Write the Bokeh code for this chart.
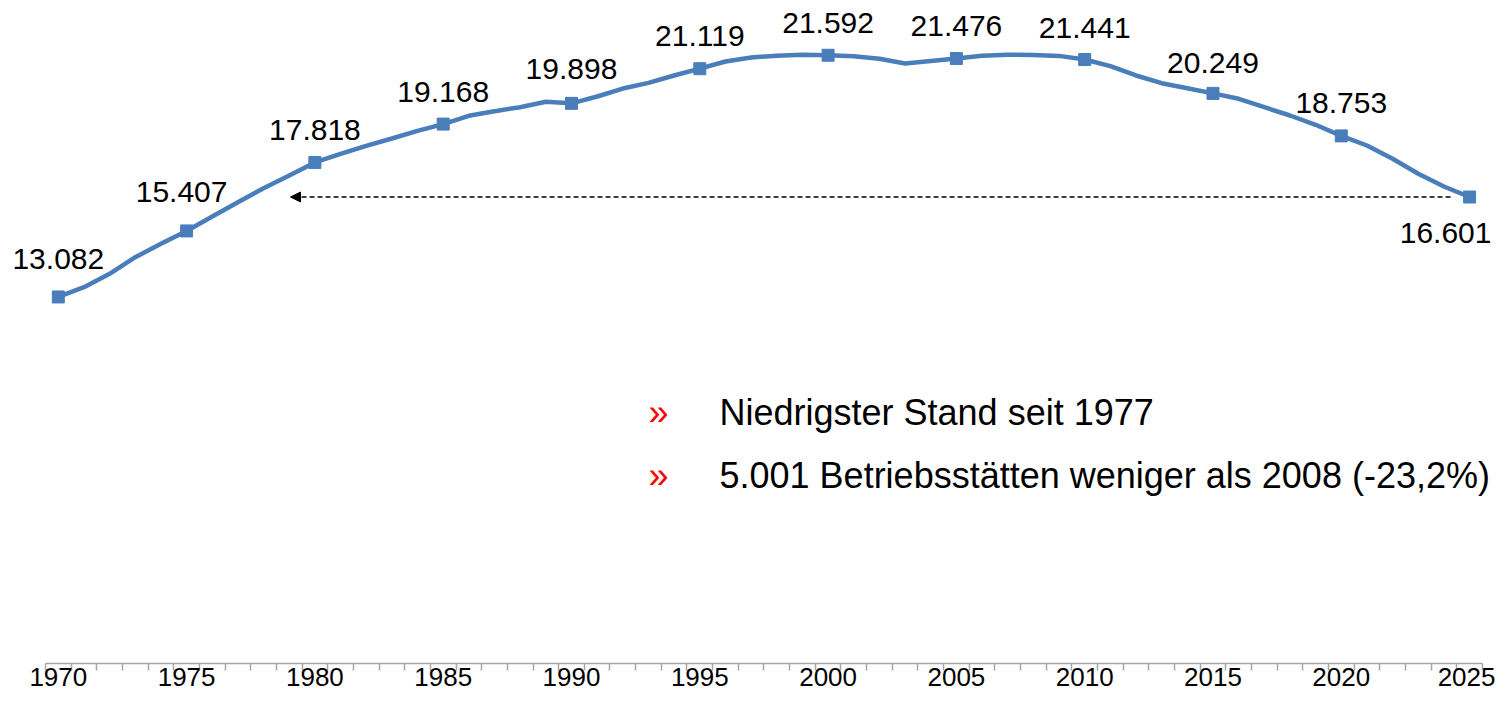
from bokeh.plotting import figure
from bokeh.models import Range1d, FixedTicker, ColumnDataSource, Arrow, NormalHead, Label
from bokeh.core.properties import value
from bokeh.embed import file_html
from bokeh.resources import INLINE

# ---------------- data ----------------
years = list(range(1970, 2026))
betriebe = [
    13082, 13425, 13897, 14482, 14954,   # 1970-1974
    15407, 15915, 16418, 16912, 17359,   # 1975-1979
    17818, 18120, 18400, 18660, 18930,   # 1980-1984
    19168, 19460, 19623, 19764, 19953,   # 1985-1989
    19898, 20140, 20420, 20620, 20880,   # 1990-1994
    21119, 21372, 21513, 21575, 21610,   # 1995-1999
    21592, 21560, 21467, 21302, 21390,   # 2000-2004
    21476, 21573, 21608, 21602, 21570,   # 2005-2009
    21441, 21207, 20880, 20609, 20433,   # 2010-2014
    20249, 20059, 19764, 19471, 19144,   # 2015-2019
    18753, 18415, 17947, 17418, 16972,   # 2020-2024
    16601,                               # 2025
]
label_years = [1970, 1975, 1980, 1985, 1990, 1995, 2000, 2005, 2010, 2015, 2020, 2025]
tick_labels = [str(y) for y in label_years]
bullets = [
    "Niedrigster Stand seit 1977",
    "5.001 Betriebsstätten weniger als 2008 (-23,2%)",
]

# ---------------- styling ----------------
FONT = "Liberation Sans"
BLUE = "#4a7ebb"
AXIS_GREY = "#a6a6a6"
label_dy = [-38, -39, -32, -32, -34, -33, -32, -33, -32, -30, -33, 36]  # px (screen, down positive)
label_dx = [0, -5, 0, 0, 0, 0, 0, 0, 0, 0, 0, -24]

def de_fmt(v):
    return f"{v:,}".replace(",", ".")

label_vals = [betriebe[years.index(y)] for y in label_years]
lab_src = ColumnDataSource(dict(
    x=label_years, y=label_vals,
    txt=[de_fmt(v) for v in label_vals],
    dx=label_dx, dy=label_dy,
))

p = figure(
    width=1495, height=696,
    x_range=Range1d(1967.747, 2026.01), y_range=Range1d(176, 23520),
    output_backend="svg", toolbar_location=None,
    y_axis_location=None,
    min_border_left=0, min_border_right=0, min_border_top=0, min_border_bottom=33,
)
p.title.visible = False
p.outline_line_color = None
p.grid.visible = False
p.background_fill_color = "white"
p.border_fill_color = "white"

# x axis: tick marks at category boundaries, labels at category centres
ax = p.xaxis[0]
ax.bounds = (1969.5, 2025.5)
ax.ticker = FixedTicker(ticks=label_years, minor_ticks=[1969.5 + i for i in range(len(years) + 1)])
ax.major_label_overrides = {y: t for y, t in zip(label_years, tick_labels)}
ax.major_tick_line_color = None
ax.major_tick_out = 7
ax.major_tick_in = 0
ax.minor_tick_out = 7
ax.minor_tick_in = 0
ax.minor_tick_line_color = AXIS_GREY
ax.minor_tick_line_width = 1.5
ax.axis_line_color = AXIS_GREY
ax.axis_line_width = 1.5
ax.major_label_standoff = -3
ax.major_label_text_font = FONT
ax.major_label_text_font_size = "26px"
ax.major_label_text_color = "black"

# dashed arrow from 2025 back to the 1977 level
p.add_layout(Arrow(
    end=NormalHead(size=10, fill_color="black", line_color="black", line_width=1),
    x_start=2024.26, y_start=betriebe[-1], x_end=1979.05, y_end=betriebe[-1],
    line_color="black", line_width=1.4, line_dash="5 3",
))

# series
p.line(years, betriebe, line_color=BLUE, line_width=4.5, line_join="round", line_cap="round")
p.scatter(label_years, label_vals, marker="square", size=12, fill_color=BLUE, line_color=BLUE)

p.text(x="x", y="y", text="txt", x_offset="dx", y_offset="dy", source=lab_src,
       text_align="center", text_baseline="alphabetic",
       text_font=value(FONT), text_font_size="30px", text_color="black")

# bullet notes
note_base = [9014, 6795]
for txt, yb in zip(bullets, note_base):
    p.add_layout(Label(x=1993.0, y=yb, text="\u00bb", text_color="#ff0000",
                       text_font=FONT, text_font_size="36px", text_baseline="alphabetic"))
    p.add_layout(Label(x=1995.768, y=yb, text=txt, text_color="black",
                       text_font=FONT, text_font_size="36px", text_baseline="alphabetic"))

open("out.html", "w").write(file_html(p, INLINE))
